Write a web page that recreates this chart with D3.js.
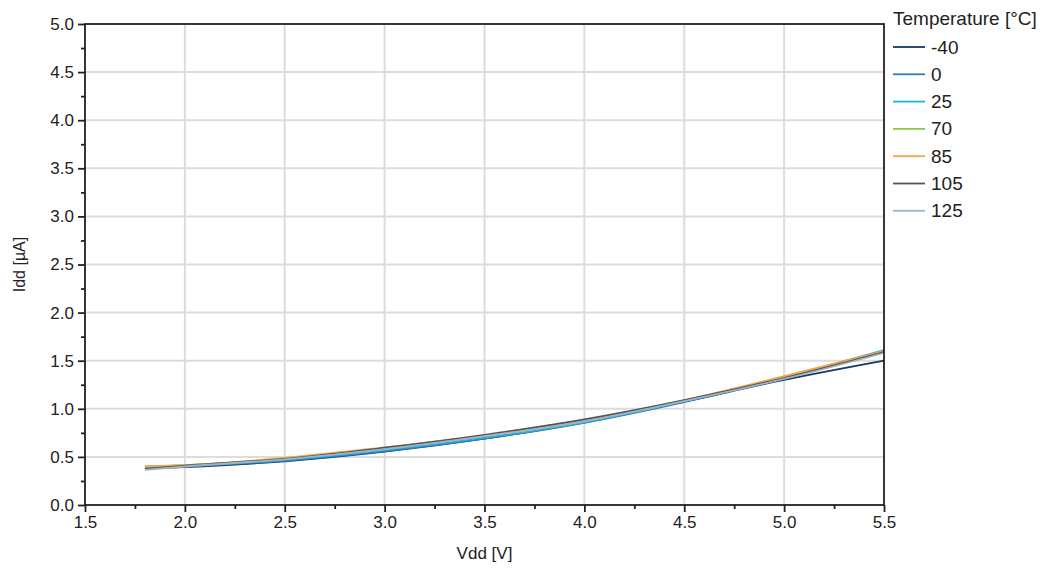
<!DOCTYPE html>
<html><head><meta charset="utf-8">
<script src="https://cdn.jsdelivr.net/npm/d3@7"></script>
<style>body{margin:0;background:#fff}svg{display:block}text{font-family:"Liberation Sans",Arial,sans-serif;fill:#222}</style>
</head><body><svg id="c" width="1042" height="569"></svg>
<script>
const vdd = [1.8, 2.0, 2.5, 3.0, 3.5, 4.0, 4.5, 5.0, 5.5];
const temps = ["-40","0","25","70","85","105","125"];
const colors = ["#163a63","#2c7dc0","#19b5ea","#8cc84b","#f7a24a","#555555","#9fb3c3"];
const idd_m40 = [0.38, 0.395, 0.455, 0.555, 0.69, 0.86, 1.075, 1.30, 1.50];
const idd_0   = [0.38, 0.40, 0.46, 0.56, 0.69, 0.855, 1.07, 1.32, 1.60];
const idd_25  = [0.39, 0.41, 0.47, 0.57, 0.70, 0.86, 1.08, 1.33, 1.61];
const idd_70  = [0.405, 0.415, 0.48, 0.585, 0.715, 0.875, 1.085, 1.33, 1.59];
const idd_85  = [0.40, 0.415, 0.49, 0.60, 0.72, 0.875, 1.09, 1.34, 1.60];
const idd_105 = [0.375, 0.41, 0.48, 0.595, 0.73, 0.89, 1.09, 1.32, 1.59];
const idd_125 = [0.365, 0.40, 0.475, 0.58, 0.715, 0.87, 1.08, 1.31, 1.58];
const series = [idd_m40, idd_0, idd_25, idd_70, idd_85, idd_105, idd_125];
const xTicks = [1.5,2.0,2.5,3.0,3.5,4.0,4.5,5.0,5.5];
const yTicks = [0,0.5,1.0,1.5,2.0,2.5,3.0,3.5,4.0,4.5,5.0];

const svg = d3.select("#c");
const L=85, R=884, T=24, B=505;
const x = d3.scaleLinear().domain([1.5,5.5]).range([L,R]);
const y = d3.scaleLinear().domain([0,5]).range([B,T]);

// grid
const g = svg.append("g");
g.selectAll(".gx").data(xTicks.slice(1,-1)).join("line")
 .attr("x1",d=>x(d)).attr("x2",d=>x(d)).attr("y1",T).attr("y2",B)
 .attr("stroke","#dcdcdc").attr("stroke-width",2);
g.selectAll(".gy").data(yTicks.slice(1,-1)).join("line")
 .attr("y1",d=>y(d)).attr("y2",d=>y(d)).attr("x1",L).attr("x2",R)
 .attr("stroke","#dcdcdc").attr("stroke-width",2);

// lines
const line = d3.line().x((d,i)=>x(vdd[i])).y(d=>y(d)).curve(d3.curveMonotoneX);
series.forEach((s,k)=>{
  svg.append("path").datum(s).attr("d",line).attr("fill","none")
   .attr("stroke",colors[k]).attr("stroke-width",1.8);
});

// frame
svg.append("rect").attr("x",L).attr("y",T).attr("width",R-L).attr("height",B-T)
 .attr("fill","none").attr("stroke","#222").attr("stroke-width",1.8);

// axes
const fmt = d3.format(".1f");
const xMinor = d3.range(1.75,5.5,0.5);
const yMinor = d3.range(0.25,5,0.5);
const xa = svg.append("g").attr("transform",`translate(0,${B})`)
 .call(d3.axisBottom(x).tickValues(xTicks).tickFormat(fmt).tickSize(7).tickPadding(4));
const ya = svg.append("g").attr("transform",`translate(${L},0)`)
 .call(d3.axisLeft(y).tickValues(yTicks).tickFormat(fmt).tickSize(7).tickPadding(4));
[xa,ya].forEach(a=>{
  a.select(".domain").remove();
  a.selectAll("line").attr("stroke","#222").attr("stroke-width",1.8);
  a.selectAll("text").attr("font-size",17).attr("fill","#222")
   .style("font-family",'"Liberation Sans",Arial,sans-serif');
});
svg.append("g").attr("transform",`translate(0,${B})`)
 .call(d3.axisBottom(x).tickValues(xMinor).tickFormat("").tickSize(4))
 .call(a=>{a.select(".domain").remove();a.selectAll("line").attr("stroke","#222").attr("stroke-width",1.8);});
svg.append("g").attr("transform",`translate(${L},0)`)
 .call(d3.axisLeft(y).tickValues(yMinor).tickFormat("").tickSize(4))
 .call(a=>{a.select(".domain").remove();a.selectAll("line").attr("stroke","#222").attr("stroke-width",1.8);});

// axis titles
svg.append("text").attr("x",(L+R)/2).attr("y",559).attr("text-anchor","middle")
 .attr("font-size",17).text("Vdd [V]");
svg.append("text").attr("transform",`translate(25,${(T+B)/2}) rotate(-90)`)
 .attr("text-anchor","middle").attr("font-size",16).text("Idd [µA]");

// legend
const lg = svg.append("g");
lg.append("text").attr("x",893).attr("y",25).attr("font-size",19).text("Temperature [°C]");
temps.forEach((t,k)=>{
  const yy = 47 + k*27.3;
  lg.append("line").attr("x1",893).attr("x2",925).attr("y1",yy).attr("y2",yy)
   .attr("stroke",colors[k]).attr("stroke-width",1.8);
  lg.append("text").attr("x",931).attr("y",yy+6.5).attr("font-size",19).text(t);
});
</script></body></html>
